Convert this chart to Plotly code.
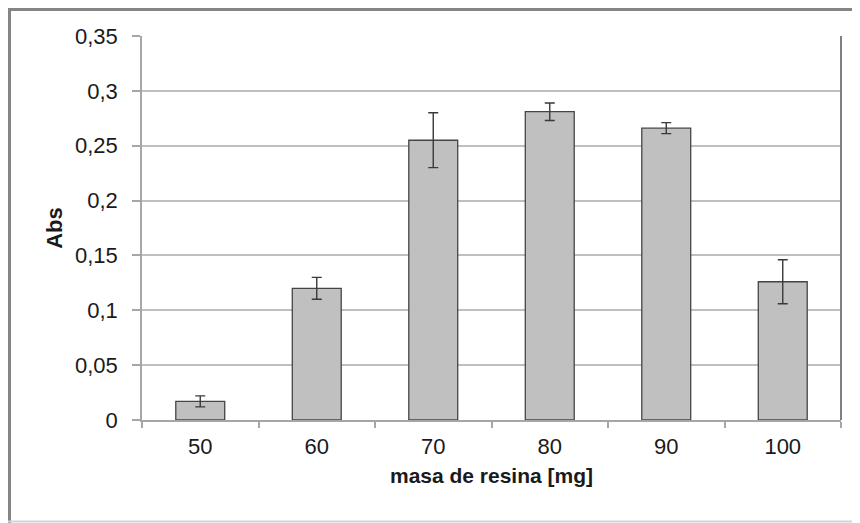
import plotly.graph_objects as go

categories = ["50", "60", "70", "80", "90", "100"]
abs_values = [0.017, 0.120, 0.255, 0.281, 0.266, 0.126]
abs_errors = [0.005, 0.010, 0.025, 0.008, 0.005, 0.020]
y_ticks = [0, 0.05, 0.1, 0.15, 0.2, 0.25, 0.3, 0.35]
y_tick_labels = ["0", "0,05", "0,1", "0,15", "0,2", "0,25", "0,3", "0,35"]

font_family = "Liberation Sans, Arial, sans-serif"

# page body has an 8px margin, so the figure is drawn 8px in from the window edge
W, H = 852, 515
L, R, T, B = 134, 19, 28, 103
PW, PH = W - L - R, H - T - B


def px_x(p):
    return (p - L) / PW


def px_y(p):
    return (T + PH - p) / PH


fig = go.Figure()
fig.add_trace(go.Bar(
    x=categories,
    y=abs_values,
    marker=dict(color="#c0c0c0", line=dict(color="#454545", width=1.3)),
    error_y=dict(type="data", array=abs_errors, visible=True,
                 color="#3a3a3a", thickness=1.4, width=5),
    showlegend=False,
))

fig.update_layout(
    width=W, height=H,
    margin=dict(l=L, r=R, t=T, b=B),
    paper_bgcolor="white",
    plot_bgcolor="white",
    bargap=0.58,
    font=dict(family=font_family, size=22, color="#1a1a1a"),
    xaxis=dict(
        type="category",
        showline=True, linecolor="#a6a6a6", linewidth=1.5,
        ticks="outside", ticklen=6, tickcolor="#a6a6a6", tickwidth=1.5,
        tickson="boundaries",
        showgrid=False,
        tickfont=dict(size=22),
        ticklabelstandoff=6,
        title=dict(text="<b>masa de resina [mg]</b>", font=dict(size=21), standoff=10),
    ),
    yaxis=dict(
        range=[0, 0.35],
        tickvals=y_ticks, ticktext=y_tick_labels,
        showline=True, linecolor="#a6a6a6", linewidth=1.5,
        ticks="outside", ticklen=8, tickcolor="#a6a6a6", tickwidth=1.5,
        showgrid=True, gridcolor="#bfbfbf", gridwidth=1.5,
        zeroline=False,
        tickfont=dict(size=22),
        ticklabelstandoff=10,
        title=dict(text="<b>Abs</b>", font=dict(size=22), standoff=6),
    ),
    shapes=[
        dict(type="line", xref="x domain", yref="y domain", x0=1, x1=1, y0=0, y1=1,
             line=dict(color="#808080", width=2)),
        # outer frame: dark top and left, light bottom
        dict(type="line", xref="paper", yref="paper",
             x0=px_x(0), x1=px_x(W), y0=px_y(1.5), y1=px_y(1.5),
             line=dict(color="#858585", width=3), layer="below"),
        dict(type="line", xref="paper", yref="paper",
             x0=px_x(1.5), x1=px_x(1.5), y0=px_y(0), y1=px_y(H),
             line=dict(color="#858585", width=3), layer="below"),
        dict(type="line", xref="paper", yref="paper",
             x0=px_x(0), x1=px_x(W), y0=px_y(H - 1.5), y1=px_y(H - 1.5),
             line=dict(color="#d4d4d4", width=2), layer="below"),
    ],
)

fig.write_html("out.html")
